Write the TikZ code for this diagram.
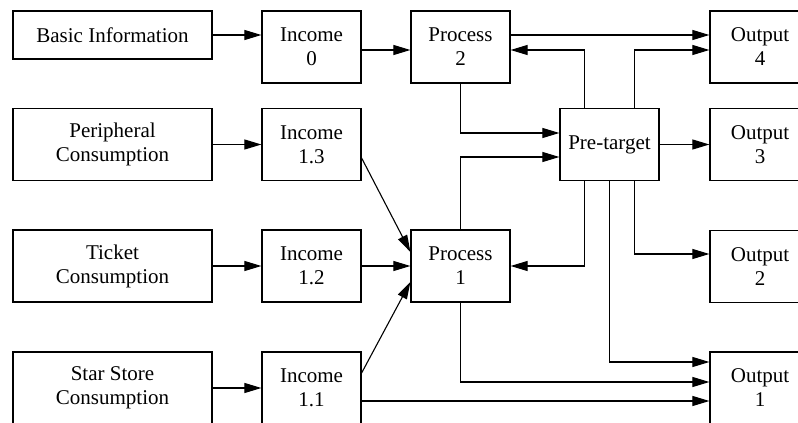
\documentclass[tikz,border=0pt]{standalone}
\usepackage{fontspec}
\setmainfont{Liberation Serif}
\usetikzlibrary{arrows.meta}
\begin{document}
\begin{tikzpicture}[x=1pt,y=-1pt,
  box/.style={draw,line width=1.2pt,inner sep=0pt,align=center,font=\fontsize{21}{24}\selectfont},
  wide/.style={box,minimum width=199pt,minimum height=72pt},
  mid/.style={box,minimum width=99pt,minimum height=72pt},
  outb/.style={box,minimum width=100pt,minimum height=72pt},
  arr/.style={line width=1.1pt,-{Triangle[length=17pt,width=10pt]}}]
\useasboundingbox (0,0) rectangle (798,423);
\clip (0,0) rectangle (798,423);
\node[wide,minimum height=48pt] (basic) at (112.5,35) {Basic Information};
\node[wide] (pc) at (112.5,144.5) {Peripheral\\Consumption};
\node[wide] (tc) at (112.5,266) {Ticket\\Consumption};
\node[wide] (sc) at (112.5,388) {Star Store\\Consumption};
\node[mid] (i0) at (311.5,47) {Income\\0};
\node[mid] (i13) at (311.5,144.5) {Income\\1.3};
\node[mid] (i12) at (311.5,266) {Income\\1.2};
\node[mid] (i11) at (311.5,388) {Income\\1.1};
\node[mid] (p2) at (460.5,47) {Process\\2};
\node[mid] (p1) at (460.5,266) {Process\\1};
\node[mid] (pt) at (609.5,144.5) {Pre-target};
\node[outb] (o4) at (760,47) {Output\\4};
\node[outb] (o3) at (760,144.5) {Output\\3};
\node[outb] (o2) at (760,266.5) {Output\\2};
\node[outb] (o1) at (760,388) {Output\\1};
% left column to income
\draw[arr] (basic.east) -- (basic.east -| i0.west);
\draw[arr] (pc.east) -- (i13.west);
\draw[arr] (tc.east) -- (i12.west);
\draw[arr] (sc.east) -- (i11.west);
% income to process
\draw[arr] ([yshift=-3pt]i0.east) -- ([yshift=-3pt]p2.west);
\draw[arr] ([yshift=-13.5pt]i13.east) -- ([yshift=14pt]p1.west);
\draw[arr] (i12.east) -- (p1.west);
\draw[arr] ([yshift=15pt]i11.east) -- ([yshift=-16pt]p1.west);
\draw[arr] ([yshift=-13pt]i11.east) -- ([yshift=-13pt]o1.west);
% process 2
\draw[arr] ([yshift=12pt]p2.east) -- ([yshift=12pt]o4.west);
\draw[arr] (p2.south) |- ([yshift=11.5pt]pt.west);
% process 1
\draw[arr] (p1.north) |- ([yshift=-12.5pt]pt.west);
\draw[arr] (p1.south) |- ([yshift=6pt]o1.west);
% pre-target
\draw[arr] ([xshift=-25pt]pt.north) |- ([yshift=-3pt]p2.east);
\draw[arr] ([xshift=25pt]pt.north) |- ([yshift=-3pt]o4.west);
\draw[arr] (pt.east) -- (o3.west);
\draw[arr] ([xshift=-25pt]pt.south) |- (p1.east);
\draw[arr] ([xshift=25pt]pt.south) |- ([yshift=12.5pt]o2.west);
\draw[arr] (pt.south) |- ([yshift=26pt]o1.west);
\end{tikzpicture}
\end{document}
